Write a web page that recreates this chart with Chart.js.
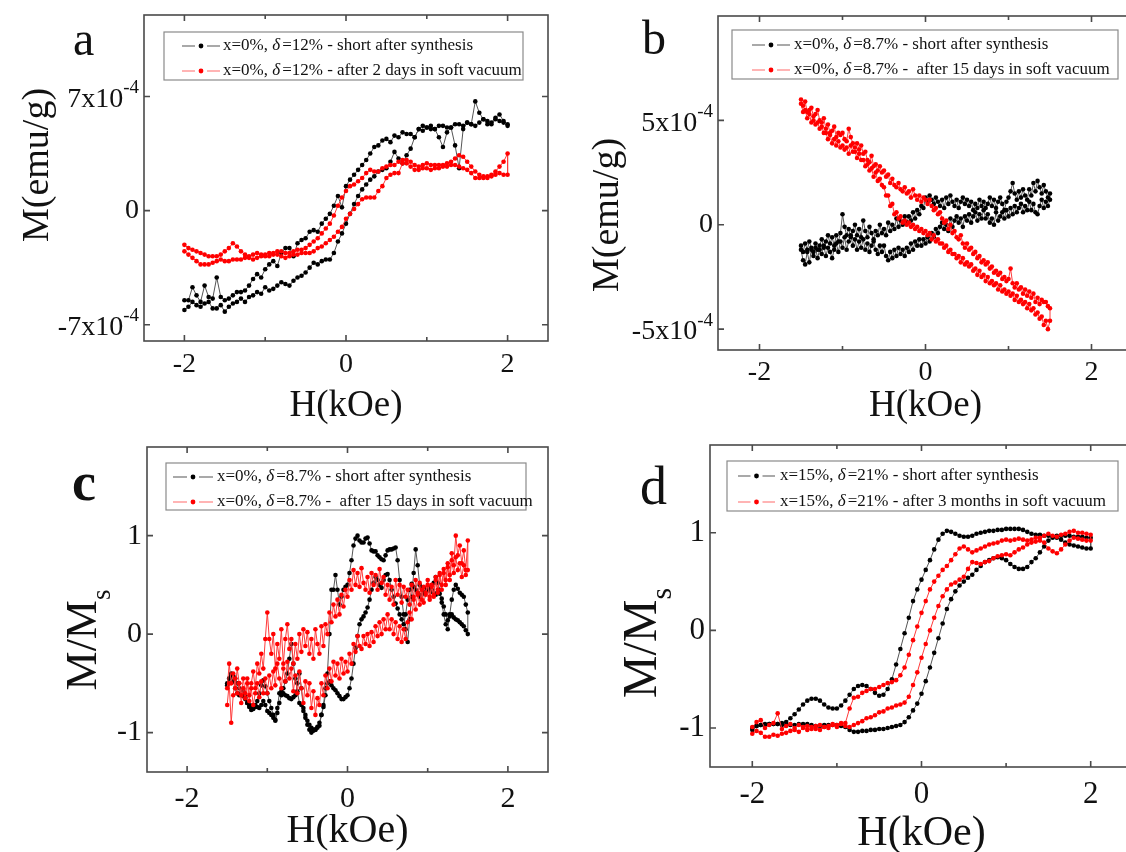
<!DOCTYPE html>
<html>
<head>
<meta charset="utf-8">
<script src="https://cdn.jsdelivr.net/npm/chart.js@4.4.1/dist/chart.umd.min.js"></script>
<style>
  html, body { margin: 0; padding: 0; width: 1126px; height: 852px; overflow: hidden; background: #fff; }
  canvas { position: absolute; left: 0; top: 0; }
</style>
</head>
<body>
<canvas id="panelA" width="1140" height="852"></canvas>
<canvas id="panelB" width="1140" height="852"></canvas>
<canvas id="panelC" width="1140" height="852"></canvas>
<canvas id="panelD" width="1140" height="852"></canvas>
<script>
// field sweeps (kOe)
const hSweep2 = [
  -2.0, -1.95, -1.9, -1.85, -1.8, -1.75, -1.7, -1.65, -1.6, -1.55,
  -1.5, -1.45, -1.4, -1.35, -1.3, -1.25, -1.2, -1.15, -1.1, -1.05,
  -1.0, -0.95, -0.9, -0.85, -0.8, -0.75, -0.7, -0.65, -0.6, -0.55,
  -0.5, -0.45, -0.4, -0.35, -0.3, -0.25, -0.2, -0.15, -0.1, -0.05,
  0.0, 0.05, 0.1, 0.15, 0.2, 0.25, 0.3, 0.35, 0.4, 0.45,
  0.5, 0.55, 0.6, 0.65, 0.7, 0.75, 0.8, 0.85, 0.9, 0.95,
  1.0, 1.05, 1.1, 1.15, 1.2, 1.25, 1.3, 1.35, 1.4, 1.45,
  1.5, 1.55, 1.6, 1.65, 1.7, 1.75, 1.8, 1.85, 1.9, 1.95,
  2.0];
const hSweep15 = [
  -1.5, -1.475, -1.45, -1.425, -1.4, -1.375, -1.35, -1.325, -1.3, -1.275,
  -1.25, -1.225, -1.2, -1.175, -1.15, -1.125, -1.1, -1.075, -1.05, -1.025,
  -1.0, -0.975, -0.95, -0.925, -0.9, -0.875, -0.85, -0.825, -0.8, -0.775,
  -0.75, -0.725, -0.7, -0.675, -0.65, -0.625, -0.6, -0.575, -0.55, -0.525,
  -0.5, -0.475, -0.45, -0.425, -0.4, -0.375, -0.35, -0.325, -0.3, -0.275,
  -0.25, -0.225, -0.2, -0.175, -0.15, -0.125, -0.1, -0.075, -0.05, -0.025,
  0.0, 0.025, 0.05, 0.075, 0.1, 0.125, 0.15, 0.175, 0.2, 0.225,
  0.25, 0.275, 0.3, 0.325, 0.35, 0.375, 0.4, 0.425, 0.45, 0.475,
  0.5, 0.525, 0.55, 0.575, 0.6, 0.625, 0.65, 0.675, 0.7, 0.725,
  0.75, 0.775, 0.8, 0.825, 0.85, 0.875, 0.9, 0.925, 0.95, 0.975,
  1.0, 1.025, 1.05, 1.075, 1.1, 1.125, 1.15, 1.175, 1.2, 1.225,
  1.25, 1.275, 1.3, 1.325, 1.35, 1.375, 1.4, 1.425, 1.45, 1.475,
  1.5];

// a: M in units of 1e-4 emu/g, both branches listed in increasing H
const aBlackUp = [
  -6.1, -5.9, -5.6, -5.8, -5.9, -5.7, -5.6, -6.0, -6.0, -5.8,
  -6.2, -5.9, -5.7, -5.6, -5.4, -5.6, -5.3, -5.2, -5.0, -5.1,
  -4.7, -4.9, -4.8, -4.6, -4.4, -4.5, -4.6, -4.3, -4.1, -4.0,
  -3.8, -3.5, -3.2, -3.3, -3.1, -3.0, -3.0, -2.6, -1.9, -1.4,
  -0.8, -0.2, 0.4, 0.9, 1.3, 1.6, 1.9, 2.1, 2.4, 2.5,
  2.6, 3.0, 3.6, 3.2, 2.9, 3.4, 3.8, 4.5, 5.0, 4.9,
  5.1, 5.2, 5.0, 4.5, 3.9, 4.8, 5.1, 4.0, 2.6, 5.0,
  5.4, 5.3, 5.2, 5.4, 5.6, 5.5, 5.4, 5.7, 5.9, 5.5,
  5.3];
const aBlackDown = [
  -5.5, -5.5, -4.7, -5.2, -5.6, -4.6, -5.3, -5.4, -4.1, -5.3,
  -5.5, -5.4, -5.2, -5.0, -5.0, -4.9, -4.6, -4.2, -3.9, -4.1,
  -3.6, -3.3, -3.1, -3.4, -2.6, -2.3, -2.3, -2.8, -2.0, -1.8,
  -1.7, -1.3, -1.2, -1.3, -0.8, -0.5, -0.2, 0.3, 0.9, 0.2,
  1.5, 1.9, 2.2, 2.5, 2.8, 3.1, 3.5, 3.9, 4.0, 4.3,
  4.4, 4.2, 4.6, 4.5, 4.8, 4.7, 4.7, 4.5, 5.0, 5.2,
  5.1, 5.0, 5.0, 5.2, 5.2, 5.1, 5.1, 5.3, 5.3, 5.2,
  5.4, 5.3, 6.7, 6.0, 5.6, 5.3, 5.3, 5.6, 5.5, 5.4,
  5.2];
const aRedUp = [
  -2.5, -2.7, -2.9, -3.1, -3.3, -3.3, -3.3, -3.2, -3.1, -3.0,
  -3.1, -3.1, -3.0, -3.0, -3.0, -2.9, -2.9, -3.0, -2.9, -2.8,
  -2.8, -2.8, -2.7, -2.7, -2.8, -2.9, -2.8, -2.7, -2.7, -2.6,
  -2.6, -2.6, -2.5, -2.3, -2.2, -2.0, -1.8, -1.6, -1.3, -1.0,
  -0.5, -0.2, 0.1, 0.4, 0.7, 0.8, 0.8, 0.8, 1.2, 1.5,
  2.0, 2.2, 2.3, 2.3, 2.9, 2.9, 2.7, 2.5, 2.5, 2.6,
  2.6, 2.5, 2.6, 2.6, 2.7, 2.7, 2.8, 2.8, 2.7, 2.6,
  2.5, 2.3, 2.0, 2.0, 2.1, 2.1, 2.2, 2.4, 2.7, 3.0,
  3.5];
const aRedDown = [
  -2.1, -2.3, -2.4, -2.5, -2.6, -2.7, -2.8, -2.8, -2.8, -2.7,
  -2.5, -2.3, -2.0, -2.2, -2.5, -2.7, -2.8, -2.7, -2.6, -2.7,
  -2.7, -2.6, -2.6, -2.5, -2.5, -2.6, -2.6, -2.5, -2.4, -2.4,
  -2.3, -2.1, -1.9, -1.7, -1.4, -1.1, -0.8, -0.3, 0.3, 0.8,
  1.2, 1.5, 1.6, 1.8, 2.0, 2.3, 2.5, 2.4, 2.4, 2.6,
  2.7, 2.8, 2.8, 3.0, 3.1, 3.1, 3.0, 2.8, 2.7, 2.8,
  2.9, 2.8, 2.8, 2.8, 2.8, 2.9, 3.0, 3.2, 3.4, 3.3,
  3.0, 2.7, 2.4, 2.2, 2.0, 2.0, 2.1, 2.2, 2.3, 2.2,
  2.2];

// b: M in units of 1e-4 emu/g
const bBlackUp = [
  -1.2, -1.7, -1.9, -1.3, -1.8, -1.2, -1.5, -1.1, -1.6, -1.2,
  -1.4, -1.0, -1.5, -1.1, -1.3, -1.6, -1.2, -0.9, -1.3, -0.8,
  -1.1, -0.6, -1.2, -0.8, -0.5, -1.0, -0.7, -1.2, -0.8, -1.1,
  -0.7, -1.2, -0.9, -1.3, -1.0, -0.8, -1.2, -1.4, -1.0, -1.3,
  -1.0, -1.5, -1.7, -1.3, -1.6, -1.2, -1.5, -1.1, -1.4, -1.2,
  -1.5, -1.1, -1.3, -0.9, -1.2, -0.8, -1.0, -0.7, -1.0, -0.7,
  -0.9, -0.6, -0.8, -0.4, -0.6, -0.2, -0.4, -0.1, 0.1, -0.2,
  0.0, -0.3, 0.3, -0.1, 0.2, 0.4, 0.1, 0.3, -0.1, 0.4,
  0.2, 0.5, 0.1, 0.4, 0.6, 0.2, 0.5, 0.3, 0.7, 0.3,
  0.5, 0.1, 0.3, 0.0, 0.6, 0.2, 0.4, 0.6, 0.3, 0.7,
  0.4, 0.8, 0.5, 0.9, 0.6, 0.8, 1.0, 0.6, 0.9, 0.7,
  1.1, 0.7, 1.0, 0.6, 0.5, 0.9, 1.2, 0.8, 1.1, 0.9,
  1.2];
const bBlackDown = [
  -1.0, -1.3, -0.9, -1.2, -0.8, -1.1, -1.3, -0.9, -1.2, -1.0,
  -0.7, -1.1, -0.8, -0.5, -0.9, -0.6, -1.0, -0.5, -0.8, -0.4,
  0.5, -0.1, -0.5, -0.2, -0.6, -0.3, 0.0, -0.5, -0.2, -0.6,
  0.2, -0.3, -0.6, -0.1, -0.4, -0.7, -0.3, -0.5, 0.0, -0.4,
  -0.2, -0.5, 0.1, -0.3, 0.0, -0.2, 0.3, -0.1, 0.2, 0.0,
  0.4, 0.1, 0.4, 0.2, 0.6, 0.3, 0.7, 0.5, 0.9, 0.8,
  1.3, 1.1, 1.4, 1.2, 1.0, 1.3, 1.1, 0.9, 1.2, 0.8,
  1.3, 1.0, 1.4, 1.1, 0.9, 1.2, 0.8, 1.1, 1.3, 1.0,
  1.2, 0.9, 1.1, 0.7, 1.0, 0.8, 1.2, 0.9, 1.1, 0.8,
  1.0, 1.3, 0.9, 1.2, 0.8, 1.1, 1.3, 1.0, 0.7, 1.1,
  1.3, 1.6, 2.0, 1.5, 1.2, 1.6, 1.3, 1.7, 1.4, 1.2,
  1.7, 1.4, 2.0, 1.6, 2.1, 1.8, 1.5, 1.9, 1.6, 1.3,
  1.5];
const bRedUp = [
  5.8, 5.4, 5.5, 5.1, 5.3, 4.9, 5.0, 4.8, 4.9, 4.6,
  4.7, 4.4, 4.4, 4.1, 4.3, 3.9, 4.1, 3.8, 4.0, 3.7,
  3.8, 3.6, 3.7, 3.4, 3.8, 3.5, 3.5, 3.2, 3.4, 3.1,
  3.1, 2.8, 2.9, 2.6, 2.7, 2.3, 2.5, 2.1, 2.2, 1.9,
  1.8, 1.4, 1.4, 0.9, 1.0, 0.5, 0.6, 0.3, 0.4, 0.1,
  0.2, 0.0, 0.1, -0.1, 0.0, -0.2, -0.1, -0.3, -0.2, -0.4,
  -0.3, -0.5, -0.4, -0.7, -0.5, -0.8, -0.7, -0.9, -0.9, -1.1,
  -1.0, -1.3, -1.2, -1.4, -1.4, -1.6, -1.5, -1.8, -1.6, -1.9,
  -1.8, -2.0, -1.9, -2.2, -2.1, -2.4, -2.2, -2.5, -2.4, -2.7,
  -2.5, -2.8, -2.7, -2.9, -2.8, -3.1, -2.9, -3.2, -3.1, -3.3,
  -3.2, -3.4, -3.3, -3.6, -3.4, -3.7, -3.6, -3.8, -3.7, -4.0,
  -3.8, -4.1, -4.0, -4.3, -4.2, -4.5, -4.4, -4.8, -4.6, -5.0,
  -4.6];
const bRedDown = [
  6.0, 5.7, 5.9, 5.4, 5.5, 5.6, 5.2, 5.3, 5.5, 5.0,
  4.9, 5.1, 4.6, 4.8, 4.4, 4.5, 4.7, 4.2, 4.4, 4.3,
  4.4, 4.1, 4.0, 4.6, 4.2, 3.9, 3.7, 3.9, 3.6, 3.8,
  3.4, 3.5, 3.1, 3.0, 3.3, 2.8, 2.9, 2.6, 2.8, 2.5,
  2.6, 2.3, 2.4, 2.0, 2.2, 1.9, 1.8, 2.0, 1.7, 1.6,
  1.8, 1.5, 1.6, 1.3, 1.7, 1.4, 1.2, 1.4, 1.1, 1.3,
  1.2, 1.0, 1.2, 0.9, 0.7, 0.8, 0.5, 0.6, 0.3, 0.1,
  0.2, -0.2, 0.0, -0.4, -0.3, -0.6, -0.7, -0.5, -0.9, -1.1,
  -0.9, -1.2, -1.1, -1.4, -1.3, -1.6, -1.5, -1.8, -1.7, -1.9,
  -1.8, -2.1, -2.0, -2.3, -2.2, -2.4, -2.3, -2.6, -2.5, -2.7,
  -2.6, -2.1, -2.8, -3.0, -2.8, -3.1, -3.0, -3.3, -3.1, -3.4,
  -3.2, -3.5, -3.3, -3.7, -3.5, -3.8, -3.6, -3.7, -3.7, -3.9,
  -4.0];

// c: normalised M/Ms
const cBlackUp = [
  -0.52, -0.45, -0.4, -0.42, -0.45, -0.5, -0.55, -0.6, -0.63, -0.66,
  -0.7, -0.74, -0.77, -0.76, -0.74, -0.68, -0.6, -0.52, -0.47, -0.53,
  -0.6, -0.68, -0.75, -0.82, -0.87, -0.75, -0.6, -0.58, -0.6, -0.62,
  -0.63, -0.65, -0.66, -0.64, -0.62, -0.5, -0.4, -0.55, -0.75, -0.82,
  -0.88, -0.92, -0.95, -0.97, -0.97, -0.94, -0.9, -0.82, -0.74, -0.62,
  -0.5, -0.48, -0.52, -0.55, -0.57, -0.6, -0.63, -0.66, -0.66, -0.64,
  -0.62, -0.55, -0.45, -0.3, -0.14, -0.02, 0.1, 0.15, 0.18, 0.22,
  0.27, 0.35, 0.45, 0.52, 0.58, 0.55, 0.5, 0.47, 0.55, 0.6,
  0.61, 0.55, 0.45, 0.38, 0.31, 0.26, 0.2, 0.15, 0.1, 0.2,
  0.35, 0.45, 0.51, 0.48, 0.45, 0.42, 0.38, 0.4, 0.42, 0.44,
  0.45, 0.44, 0.43, 0.42, 0.4, 0.42, 0.41, 0.36, 0.28, 0.2,
  0.14, 0.18, 0.2, 0.17, 0.15, 0.14, 0.12, 0.1, 0.08, 0.04,
  0.0];
const cBlackDown = [
  -0.5, -0.45, -0.42, -0.48, -0.55, -0.6, -0.62, -0.6, -0.58, -0.64,
  -0.7, -0.72, -0.73, -0.72, -0.72, -0.74, -0.75, -0.72, -0.68, -0.72,
  -0.78, -0.8, -0.82, -0.85, -0.88, -0.8, -0.7, -0.62, -0.55, -0.48,
  -0.4, -0.25, -0.1, -0.3, -0.45, -0.58, -0.7, -0.72, -0.78, -0.85,
  -0.92, -0.97, -1.0, -0.98, -0.97, -0.95, -0.93, -0.82, -0.72, -0.55,
  -0.4, 0.0, 0.45, 0.45, 0.6, 0.45, 0.3, 0.38, 0.45, 0.48,
  0.5, 0.62, 0.75, 0.9, 0.97, 1.0, 0.95, 0.93, 0.93, 0.97,
  0.98, 0.92, 0.85, 0.84, 0.84, 0.8, 0.78, 0.76, 0.75, 0.8,
  0.85, 0.86, 0.86, 0.87, 0.88, 0.75, 0.55, 0.38, 0.2, 0.05,
  -0.08, 0.15, 0.38, 0.62, 0.86, 0.7, 0.5, 0.47, 0.45, 0.46,
  0.48, 0.46, 0.45, 0.52, 0.58, 0.52, 0.45, 0.32, 0.2, 0.1,
  0.05, 0.2, 0.35, 0.45, 0.5, 0.46, 0.42, 0.4, 0.38, 0.3,
  0.22];
const cRedUp = [
  -0.72, -0.5, -0.9, -0.62, -0.45, -0.6, -0.5, -0.7, -0.55, -0.65,
  -0.5, -0.68, -0.55, -0.72, -0.6, -0.5, -0.64, -0.48, -0.6, -0.45,
  -0.6, -0.42, -0.55, -0.38, -0.52, -0.3, -0.45, -0.55, -0.35, -0.48,
  -0.28, -0.45, -0.35, -0.58, -0.42, -0.6, -0.38, -0.55, -0.7, -0.48,
  -0.62, -0.5, -0.75, -0.58, -0.82, -0.65, -0.72, -0.5, -0.62, -0.42,
  -0.55, -0.35, -0.48, -0.28, -0.42, -0.3, -0.45, -0.25, -0.4, -0.28,
  -0.38, -0.2, -0.3, -0.1, -0.18, -0.02, -0.12, -0.15, -0.02, -0.1,
  0.0, -0.12, 0.02, -0.08, 0.08, -0.02, 0.12, 0.0, 0.15, 0.05,
  0.2, 0.05, 0.15, 0.0, 0.12, -0.05, 0.08, -0.08, 0.05, -0.05,
  0.12, 0.22, 0.15, 0.35, 0.25, 0.42, 0.3, 0.45, 0.32, 0.4,
  0.5, 0.35, 0.48, 0.38, 0.55, 0.42, 0.6, 0.45, 0.62, 0.5,
  0.68, 0.55, 0.75, 0.62, 0.78, 0.65, 0.72, 0.58, 0.7, 0.6,
  0.65];
const cRedDown = [
  -0.55, -0.3, -0.5, -0.4, -0.55, -0.35, -0.5, -0.62, -0.45, -0.6,
  -0.45, -0.62, -0.5, -0.38, -0.55, -0.3, -0.4, -0.2, -0.35, -0.05,
  0.22, -0.05, -0.2, 0.0, -0.35, -0.1, -0.25, 0.05, -0.3, -0.05,
  0.1, -0.15, -0.05, -0.3, -0.1, -0.25, 0.0, -0.18, 0.05, -0.12,
  0.02, -0.2, -0.05, -0.25, 0.05, -0.1, -0.2, 0.08, -0.12, 0.1,
  0.0, 0.22, 0.12, 0.3, 0.18, 0.35, 0.2, 0.4, 0.28, 0.45,
  0.38, 0.55, 0.45, 0.65, 0.5, 0.62, 0.48, 0.67, 0.52, 0.45,
  0.58, 0.42, 0.62, 0.5, 0.6, 0.45, 0.66, 0.52, 0.58, 0.4,
  0.5, 0.35, 0.48, 0.3, 0.55, 0.4, 0.5, 0.32, 0.48, 0.38,
  0.45, 0.3, 0.5, 0.38, 0.55, 0.4, 0.52, 0.35, 0.48, 0.42,
  0.55, 0.38, 0.5, 0.4, 0.58, 0.45, 0.62, 0.5, 0.66, 0.55,
  0.72, 0.6, 0.82, 0.7, 1.0, 0.8, 0.9, 0.72, 0.85, 0.65,
  0.95];

// d: normalised M/Ms
const dBlackUp = [
  -1.02, -0.98, -0.97, -0.97, -0.96, -0.96, -0.96, -0.97, -0.97, -0.97,
  -0.97, -0.96, -0.96, -0.96, -0.97, -0.98, -0.98, -0.97, -0.97, -0.97,
  -0.97, -0.98, -0.99, -1.02, -1.04, -1.04, -1.03, -1.03, -1.02, -1.02,
  -1.01, -1.01, -1.0, -0.99, -0.98, -0.97, -0.94, -0.89, -0.82, -0.75,
  -0.65, -0.52, -0.38, -0.23, -0.08, 0.07, 0.22, 0.32, 0.4, 0.46,
  0.5, 0.54, 0.57, 0.62, 0.66, 0.7, 0.72, 0.74, 0.75, 0.74,
  0.72, 0.68, 0.65, 0.63, 0.63, 0.65, 0.7, 0.74, 0.8, 0.86,
  0.92, 0.95, 0.97, 0.97, 0.97, 0.97, 0.96, 0.96, 0.96, 0.95,
  0.95];
const dBlackDown = [
  -1.0, -0.98, -0.97, -0.96, -0.96, -0.96, -0.96, -0.95, -0.94, -0.9,
  -0.86, -0.81, -0.76, -0.72, -0.7, -0.7, -0.72, -0.76, -0.79, -0.8,
  -0.8, -0.77, -0.72, -0.66, -0.6, -0.57, -0.56, -0.57, -0.6, -0.64,
  -0.67, -0.66, -0.6, -0.5, -0.35, -0.19, -0.03, 0.13, 0.3, 0.42,
  0.52, 0.62, 0.72, 0.83, 0.93, 0.99, 1.02, 1.01, 0.99, 0.97,
  0.96, 0.96, 0.97, 0.99, 1.0, 1.01, 1.02, 1.02, 1.03, 1.03,
  1.04, 1.04, 1.04, 1.04, 1.03, 1.01, 0.99, 0.98, 0.98, 0.97,
  0.97, 0.96, 0.95, 0.93, 0.9, 0.88, 0.87, 0.86, 0.85, 0.84,
  0.84];
const dRedUp = [
  -0.99, -0.94, -0.92, -1.0, -0.97, -0.95, -0.85, -1.01, -0.98, -0.96,
  -1.0, -0.97, -0.99, -1.02, -1.01, -0.98, -1.02, -0.99, -1.0, -0.97,
  -0.99, -0.96, -0.98, -0.99, -0.97, -0.95, -0.93, -0.9, -0.89, -0.87,
  -0.84, -0.83, -0.8, -0.79, -0.77, -0.76, -0.74, -0.68, -0.56, -0.43,
  -0.28, -0.14, 0.0, 0.13, 0.25, 0.35, 0.42, 0.47, 0.49, 0.52,
  0.55, 0.63, 0.7, 0.69, 0.68, 0.7, 0.71, 0.74, 0.76, 0.77,
  0.78, 0.77, 0.8, 0.83, 0.85, 0.88, 0.9, 0.91, 0.92, 0.9,
  0.84, 0.81, 0.79, 0.83, 0.88, 0.92, 0.95, 0.94, 0.93, 0.92,
  0.92];
const dRedDown = [
  -1.06, -1.03, -1.05, -1.09, -1.09, -1.07, -1.08, -1.06, -1.05, -1.03,
  -1.02, -1.04, -1.0, -0.98, -0.99, -1.01, -0.97, -0.99, -0.98, -0.96,
  -0.97, -0.95, -0.95, -0.8, -0.69, -0.68, -0.64, -0.62, -0.6, -0.6,
  -0.58, -0.56, -0.54, -0.53, -0.51, -0.46, -0.38, -0.25, -0.1, 0.04,
  0.18, 0.3, 0.42, 0.5, 0.56, 0.62, 0.66, 0.72, 0.78, 0.84,
  0.86, 0.83, 0.8, 0.82, 0.84, 0.86, 0.88, 0.89, 0.9, 0.92,
  0.93, 0.92, 0.93, 0.94, 0.93, 0.92, 0.93, 0.95, 0.95, 0.97,
  0.99, 0.97, 0.96, 0.98, 0.99, 1.01, 1.02, 1.0, 1.0, 0.99,
  0.98];

// axis ticks and labels
const xMajorTicks = [-2, 0, 2];
const xMinorTicks = [-1, 1];
const xTickLabels = ['-2', '0', '2'];
const yTicksA = [-7, 0, 7];
const yTickLabelsA = ['-7x10^-4', '0', '7x10^-4'];
const yTicksB = [-5, 0, 5];
const yTickLabelsB = ['-5x10^-4', '0', '5x10^-4'];
const yTicksNorm = [-1, 0, 1];
const yTickLabelsNorm = ['-1', '0', '1'];

const legendA = ['x=0%, δ=12% - short after synthesis', 'x=0%, δ=12% - after 2 days in soft vacuum'];
const legendB = ['x=0%, δ=8.7% - short after synthesis', 'x=0%, δ=8.7% -  after 15 days in soft vacuum'];
const legendD = ['x=15%, δ=21% - short after synthesis', 'x=15%, δ=21% - after 3 months in soft vacuum'];

const SERIF = '"Liberation Serif", "Times New Roman", serif';

const panels = [
  {
    canvas: 'panelA', letter: 'a', letterFont: '48px', letterPos: [73, 55],
    area: { l: 144, t: 15, r: 548, b: 341 }, yMin: -8, yMax: 12,
    h: hSweep2, black: [aBlackUp, aBlackDown], red: [aRedUp, aRedDown],
    yTicks: yTicksA, yLabels: yTickLabelsA, tickFont: 28, xLabelY: 372,
    xTitle: 'H(kOe)', xTitleFont: 37, xTitleY: 416,
    yTitle: 'M(emu/g)', yTitleSub: '', yTitleFont: 38, yTitlePos: [38, 165],
    legend: legendA, legendBox: [164, 32, 359, 48], legendRows: [46, 71], legendSample: [182, 220], legendText: 223,
  },
  {
    canvas: 'panelB', letter: 'b', letterFont: '48px', letterPos: [642, 54],
    area: { l: 718, t: 16, r: 1133, b: 350 }, yMin: -6, yMax: 10,
    h: hSweep15, black: [bBlackUp, bBlackDown], red: [bRedUp, bRedDown],
    yTicks: yTicksB, yLabels: yTickLabelsB, tickFont: 28, xLabelY: 380,
    xTitle: 'H(kOe)', xTitleFont: 37, xTitleY: 416,
    yTitle: 'M(emu/g)', yTitleSub: '', yTitleFont: 38, yTitlePos: [608, 215],
    legend: legendB, legendBox: [732, 30, 386, 49], legendRows: [45, 70], legendSample: [752, 790], legendText: 794,
  },
  {
    canvas: 'panelC', letter: 'c', letterFont: 'bold 54px', letterPos: [72, 500],
    area: { l: 147, t: 447, r: 548, b: 772 }, yMin: -1.4, yMax: 1.9,
    h: hSweep15, black: [cBlackUp, cBlackDown], red: [cRedUp, cRedDown],
    yTicks: yTicksNorm, yLabels: yTickLabelsNorm, tickFont: 30, xLabelY: 807,
    xTitle: 'H(kOe)', xTitleFont: 40, xTitleY: 842,
    yTitle: 'M/M', yTitleSub: 's', yTitleFont: 44, yTitlePos: [84, 640],
    legend: legendB, legendBox: [166, 463, 360, 47], legendRows: [477, 502], legendSample: [173, 213], legendText: 217,
  },
  {
    canvas: 'panelD', letter: 'd', letterFont: '54px', letterPos: [640, 504],
    area: { l: 710, t: 445, r: 1133, b: 767 }, yMin: -1.4, yMax: 1.9,
    h: hSweep2, black: [dBlackUp, dBlackDown], red: [dRedUp, dRedDown],
    yTicks: yTicksNorm, yLabels: yTickLabelsNorm, tickFont: 31, xLabelY: 803,
    xTitle: 'H(kOe)', xTitleFont: 42, xTitleY: 845,
    yTitle: 'M/M', yTitleSub: 's', yTitleFont: 48, yTitlePos: [643, 643],
    legend: legendD, legendBox: [727, 461, 391, 50], legendRows: [476, 502], legendSample: [738, 775], legendText: 780,
  },
];

// field swept up along h, then back down
function loopPoints(h, up, down) {
  const pts = h.map((x, i) => ({ x: x, y: up[i] }));
  for (let i = h.length - 1; i >= 0; i--) pts.push({ x: h[i], y: down[i] });
  return pts;
}

function drawSupLabel(ctx, text, xRight, y, size) {
  const [base, sup] = text.split('^');
  const supSize = Math.round(size * 0.68);
  ctx.font = `${size}px ${SERIF}`;
  const bw = ctx.measureText(base).width;
  let sw = 0;
  if (sup) {
    ctx.font = `${supSize}px ${SERIF}`;
    sw = ctx.measureText(sup).width;
  }
  const x0 = xRight - bw - sw;
  ctx.textAlign = 'left';
  ctx.textBaseline = 'middle';
  ctx.font = `${size}px ${SERIF}`;
  ctx.fillText(base, x0, sup ? y + 3 : y);
  if (sup) {
    ctx.font = `${supSize}px ${SERIF}`;
    ctx.fillText(sup, x0 + bw, y - size * 0.3);
  }
}

function drawLegendRow(ctx, p, row, color, lineColor) {
  const y = p.legendRows[row];
  const [x1, x2] = p.legendSample;
  const mid = (x1 + x2) / 2;
  ctx.strokeStyle = lineColor;
  ctx.lineWidth = 1.2;
  ctx.beginPath();
  ctx.moveTo(x1, y); ctx.lineTo(mid - 6, y);
  ctx.moveTo(mid + 6, y); ctx.lineTo(x2, y);
  ctx.stroke();
  ctx.fillStyle = color;
  ctx.beginPath();
  ctx.arc(mid, y, 2.4, 0, Math.PI * 2);
  ctx.fill();

  // label text with an italic delta
  const [before, after] = p.legend[row].split('δ');
  ctx.fillStyle = '#111';
  ctx.textAlign = 'left';
  ctx.textBaseline = 'middle';
  let x = p.legendText;
  ctx.font = `17px ${SERIF}`;
  ctx.fillText(before, x, y);
  x += ctx.measureText(before).width;
  ctx.font = `italic 17px ${SERIF}`;
  ctx.fillText('δ', x, y);
  x += ctx.measureText('δ').width + 2;
  ctx.font = `17px ${SERIF}`;
  ctx.fillText(after, x, y);
}

function makeDecor(p) {
  return {
    id: 'decor' + p.letter,
    afterDraw(chart) {
      const ctx = chart.ctx;
      const { left, top, right, bottom } = chart.chartArea;
      const xs = chart.scales.x;
      const ys = chart.scales.y;
      ctx.save();

      // frame and inward ticks on all four sides
      ctx.strokeStyle = '#4a4a4a';
      ctx.lineWidth = 1.6;
      ctx.strokeRect(left, top, right - left, bottom - top);
      ctx.beginPath();
      xMajorTicks.forEach(v => {
        const x = xs.getPixelForValue(v);
        ctx.moveTo(x, bottom); ctx.lineTo(x, bottom - 6);
        ctx.moveTo(x, top); ctx.lineTo(x, top + 6);
      });
      xMinorTicks.forEach(v => {
        const x = xs.getPixelForValue(v);
        ctx.moveTo(x, bottom); ctx.lineTo(x, bottom - 4);
        ctx.moveTo(x, top); ctx.lineTo(x, top + 4);
      });
      p.yTicks.forEach(v => {
        const y = ys.getPixelForValue(v);
        ctx.moveTo(left, y); ctx.lineTo(left + 6, y);
        ctx.moveTo(right, y); ctx.lineTo(right - 6, y);
      });
      ctx.stroke();

      // tick labels
      ctx.fillStyle = '#111';
      ctx.font = `${p.tickFont}px ${SERIF}`;
      ctx.textAlign = 'center';
      ctx.textBaseline = 'alphabetic';
      xMajorTicks.forEach((v, i) => {
        ctx.fillText(xTickLabels[i], xs.getPixelForValue(v), p.xLabelY);
      });
      p.yTicks.forEach((v, i) => {
        drawSupLabel(ctx, p.yLabels[i], left - 5, ys.getPixelForValue(v), p.tickFont);
      });

      // axis titles
      ctx.font = `${p.xTitleFont}px ${SERIF}`;
      ctx.textAlign = 'center';
      ctx.textBaseline = 'alphabetic';
      ctx.fillText(p.xTitle, xs.getPixelForValue(0), p.xTitleY);

      ctx.save();
      ctx.translate(p.yTitlePos[0], p.yTitlePos[1]);
      ctx.rotate(-Math.PI / 2);
      ctx.font = `${p.yTitleFont}px ${SERIF}`;
      const mainW = ctx.measureText(p.yTitle).width;
      let subW = 0;
      const subSize = Math.round(p.yTitleFont * 0.62);
      if (p.yTitleSub) {
        ctx.font = `${subSize}px ${SERIF}`;
        subW = ctx.measureText(p.yTitleSub).width;
      }
      const x0 = -(mainW + subW) / 2;
      ctx.textAlign = 'left';
      ctx.textBaseline = 'middle';
      ctx.font = `${p.yTitleFont}px ${SERIF}`;
      ctx.fillText(p.yTitle, x0, 0);
      if (p.yTitleSub) {
        ctx.font = `${subSize}px ${SERIF}`;
        ctx.fillText(p.yTitleSub, x0 + mainW, p.yTitleFont * 0.42);
      }
      ctx.restore();

      // panel letter
      ctx.font = `${p.letterFont} ${SERIF}`;
      ctx.textAlign = 'left';
      ctx.textBaseline = 'alphabetic';
      ctx.fillText(p.letter, p.letterPos[0], p.letterPos[1]);

      // legend
      const [bx, by, bw, bh] = p.legendBox;
      ctx.fillStyle = '#fff';
      ctx.fillRect(bx, by, bw, bh);
      ctx.strokeStyle = '#8a8a8a';
      ctx.lineWidth = 1.2;
      ctx.strokeRect(bx, by, bw, bh);
      drawLegendRow(ctx, p, 0, '#000', '#555');
      drawLegendRow(ctx, p, 1, '#f00', '#ff6a6a');

      ctx.restore();
    }
  };
}

panels.forEach(p => {
  const ctx = document.getElementById(p.canvas).getContext('2d');
  new Chart(ctx, {
    type: 'scatter',
    data: {
      datasets: [
        {
          label: p.legend[0],
          data: loopPoints(p.h, p.black[0], p.black[1]),
          showLine: true,
          borderColor: '#555',
          borderWidth: 1,
          pointRadius: 2.3,
          pointBackgroundColor: '#000',
          pointBorderColor: '#000',
          pointBorderWidth: 0,
          order: 2,
        },
        {
          label: p.legend[1],
          data: loopPoints(p.h, p.red[0], p.red[1]),
          showLine: true,
          borderColor: '#ff3a3a',
          borderWidth: 1,
          pointRadius: 2.3,
          pointBackgroundColor: '#f00',
          pointBorderColor: '#f00',
          pointBorderWidth: 0,
          order: 1,
        },
      ],
    },
    options: {
      responsive: false,
      animation: false,
      devicePixelRatio: 1,
      layout: { padding: { left: p.area.l, top: p.area.t, right: 1140 - p.area.r, bottom: 852 - p.area.b } },
      scales: {
        x: { type: 'linear', display: false, min: -2.5, max: 2.5 },
        y: { type: 'linear', display: false, min: p.yMin, max: p.yMax },
      },
      plugins: { legend: { display: false }, tooltip: { enabled: false } },
    },
    plugins: [makeDecor(p)],
  });
});
</script>
</body>
</html>
